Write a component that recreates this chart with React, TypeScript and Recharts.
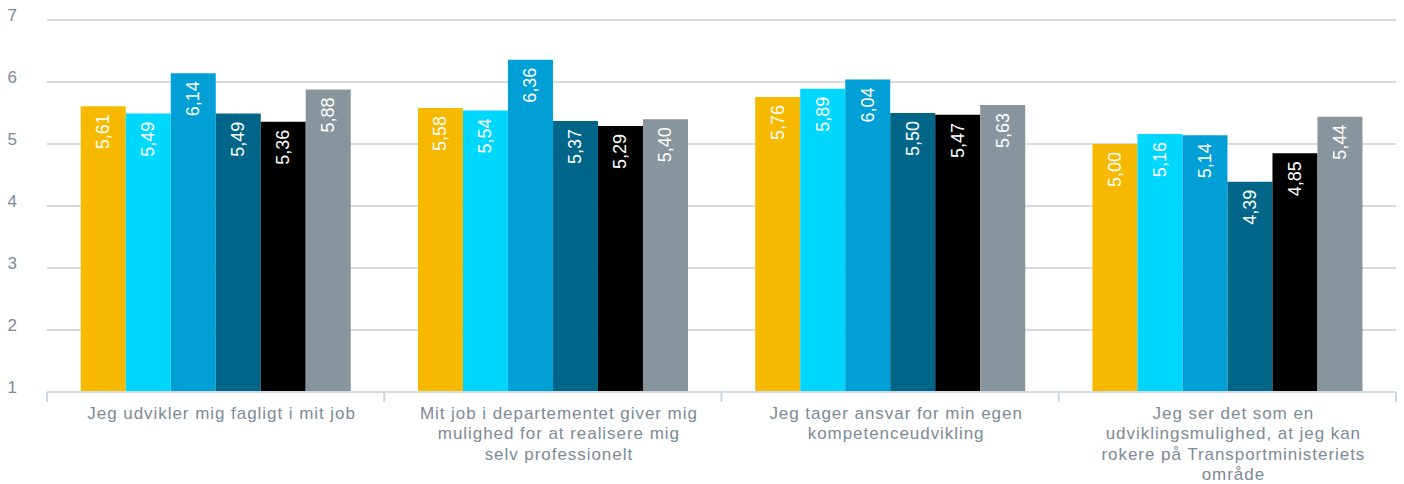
import React from "react";
import { BarChart, Bar, XAxis, YAxis, CartesianGrid, LabelList } from "recharts";

const categories = [
  "Jeg udvikler mig fagligt i mit job",
  "Mit job i departementet giver mig mulighed for at realisere mig selv professionelt",
  "Jeg tager ansvar for min egen kompetenceudvikling",
  "Jeg ser det som en udviklingsmulighed, at jeg kan rokere på Transportministeriets område",
];
const categoryLines = [
  ["Jeg udvikler mig fagligt i mit job"],
  ["Mit job i departementet giver mig", "mulighed for at realisere mig", "selv professionelt"],
  ["Jeg tager ansvar for min egen", "kompetenceudvikling"],
  ["Jeg ser det som en", "udviklingsmulighed, at jeg kan", "rokere på Transportministeriets", "område"],
];

const series1 = [5.61, 5.58, 5.76, 5.0];
const series2 = [5.49, 5.54, 5.89, 5.16];
const series3 = [6.14, 6.36, 6.04, 5.14];
const series4 = [5.49, 5.37, 5.5, 4.39];
const series5 = [5.36, 5.29, 5.47, 4.85];
const series6 = [5.88, 5.4, 5.63, 5.44];

const yTicks = [1, 2, 3, 4, 5, 6, 7];

const seriesKeys = ["s1", "s2", "s3", "s4", "s5", "s6"];
const seriesColors = ["#F7B900", "#00D7FF", "#00A0D7", "#006689", "#000000", "#89959C"];
const allSeries = [series1, series2, series3, series4, series5, series6];

const data = categories.map((name, i) => {
  const row: any = { name, idx: i };
  seriesKeys.forEach((k, j) => {
    row[k] = allSeries[j][i];
  });
  return row;
});

const W = 1404;
const H = 484;
const MARGIN = { top: 20, right: 8, left: 0, bottom: 0 };
const Y_AXIS_W = 47;
const X_AXIS_H = 92;
const PLOT_BOTTOM = H - MARGIN.bottom - X_AXIS_H;
const PLOT_W = W - MARGIN.left - MARGIN.right - Y_AXIS_W;
const BAND = PLOT_W / categories.length;

const FONT = "'Liberation Sans', Arial, Helvetica, sans-serif";
const TEXT_COLOR = "#7D8A96";

const XTick = (props: any) => {
  const { x, index } = props;
  const lines = categoryLines[index] || [];
  return (
    <g>
      <line x1={x - BAND / 2} x2={x - BAND / 2} y1={PLOT_BOTTOM} y2={PLOT_BOTTOM + 10} stroke="#CDD7E1" strokeWidth={2} />
      {index === categories.length - 1 && (
        <line x1={x + BAND / 2} x2={x + BAND / 2} y1={PLOT_BOTTOM} y2={PLOT_BOTTOM + 10} stroke="#CDD7E1" strokeWidth={2} />
      )}
      {lines.map((l, i) => (
        <text
          key={i}
          x={x + 6}
          y={PLOT_BOTTOM + 26.5 + i * 20.5}
          textAnchor="middle"
          fill={TEXT_COLOR}
          fontSize={17}
          letterSpacing={0.95}
          fontFamily={FONT}
        >
          {l}
        </text>
      ))}
    </g>
  );
};

const YTick = (props: any) => {
  const { y, payload } = props;
  return (
    <text x={17} y={y + 1} textAnchor="end" fill={TEXT_COLOR} fontSize={17} fontFamily={FONT}>
      {payload.value}
    </text>
  );
};

const BarLabel = (props: any) => {
  const { x, y, width, value } = props;
  const cx = x + width / 2;
  const ty = y + 8;
  return (
    <text
      x={cx}
      y={ty}
      transform={`rotate(-90 ${cx} ${ty})`}
      textAnchor="end"
      dominantBaseline="central"
      fill="#FFFFFF"
      fontSize={18}
      fontFamily={FONT}
    >
      {Number(value).toFixed(2).replace(".", ",")}
    </text>
  );
};

export default function App() {
  return (
    <div style={{ position: "absolute", left: 0, top: 0, width: W, height: H, background: "#fff" }}>
      <BarChart width={W} height={H} data={data} margin={MARGIN} barCategoryGap="10%" barGap={0}>
        <CartesianGrid vertical={false} stroke="#D9D9D9" strokeWidth={2} />
        <XAxis
          dataKey="name"
          height={X_AXIS_H}
          interval={0}
          tickLine={false}
          axisLine={{ stroke: "#D3DAE1", strokeWidth: 2 }}
          tick={<XTick />}
        />
        <YAxis
          type="number"
          domain={[1, 7]}
          ticks={yTicks}
          width={Y_AXIS_W}
          axisLine={false}
          tickLine={false}
          tick={<YTick />}
          interval={0}
        />
        {seriesKeys.map((k, j) => (
          <Bar key={k} dataKey={k} fill={seriesColors[j]} isAnimationActive={false}>
            <LabelList dataKey={k} content={<BarLabel />} />
          </Bar>
        ))}
      </BarChart>
    </div>
  );
}
